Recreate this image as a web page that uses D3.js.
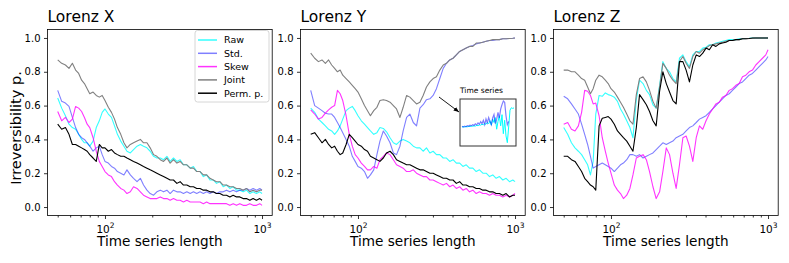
<!DOCTYPE html>
<html>
<head>
<meta charset="utf-8">
<script src="https://cdn.jsdelivr.net/npm/d3@7"></script>
<style>
  body { margin: 0; background: #fff; }
  svg { font-family: "DejaVu Sans", sans-serif; }
</style>
</head>
<body>
<svg id="chart" width="789" height="263"></svg>
<script>
// time series lengths (shared x values for every panel)
var lengths = [50,53,56,59,62,65,68,71, 74,77,80,84,88,92,96,100,
  105,110,115,120,126,132,138,145, 152,160,168,176,185,194,204,214,
  225,236,248,260,273,287,301,316, 332,349,366,384,403,423,444,466,
  489,513,539,566,594,624,655,688, 722,758,796,836,878,922,968,1000];

var seriesNames = ['Raw', 'Std.', 'Skew', 'Joint', 'Perm. p.'];
var titles = ['Lorenz X', 'Lorenz Y', 'Lorenz Z'];
var yTicks = [0, 0.2, 0.4, 0.6, 0.8, 1.0];
var xMajor = [100, 1000];
var xMinor = [50, 60, 70, 80, 90, 200, 300, 400, 500, 600, 700, 800, 900];

// Lorenz X
var xRaw = [.645,.585,.54,.49,.47,.46,.43,.40, .38,.38,.36,.39,.47,.51,.56,.58,
  .55,.53,.48,.43,.39,.36,.33,.32, .34,.36,.37,.36,.35,.33,.30,.29,
  .29,.28,.30,.27,.29,.27,.28,.25, .25,.23,.24,.21,.21,.18,.19,.16,
  .16,.14,.15,.12,.13,.11,.12,.10, .10,.09,.10,.08,.09,.08,.09,.08];
var xStd = [.69,.625,.615,.595,.53,.47,.43,.41, .40,.38,.36,.33,.35,.36,.31,.27,
  .26,.24,.23,.21,.20,.19,.22,.19, .17,.15,.17,.13,.10,.08,.07,.09,
  .10,.09,.10,.08,.10,.09,.09,.08, .09,.08,.09,.08,.09,.08,.09,.08,
  .09,.08,.09,.09,.10,.09,.10,.09, .10,.10,.11,.10,.11,.10,.11,.10];
var xSkew = [.565,.51,.53,.50,.52,.595,.585,.565, .53,.49,.47,.41,.33,.27,.24,.21,
  .19,.18,.15,.13,.11,.10,.08,.09, .12,.11,.09,.07,.06,.05,.05,.05,
  .06,.05,.05,.04,.05,.04,.04,.03, .04,.03,.03,.03,.03,.02,.03,.02,
  .02,.02,.02,.02,.02,.01,.02,.01, .02,.01,.01,.02,.01,.01,.02,.01];
var xJoint = [.87,.85,.84,.82,.85,.81,.79,.75, .73,.70,.67,.68,.66,.65,.66,.63,
  .59,.56,.52,.47,.43,.38,.35,.37, .38,.39,.40,.38,.38,.35,.31,.30,
  .28,.27,.29,.26,.28,.26,.27,.25, .25,.23,.23,.21,.21,.19,.19,.17,
  .16,.15,.15,.13,.13,.12,.12,.11, .11,.10,.11,.09,.10,.09,.10,.10];
var xPerm = [.49,.46,.47,.43,.37,.37,.36,.35, .34,.33,.31,.29,.27,.37,.35,.35,
  .33,.34,.32,.31,.30,.30,.29,.28, .27,.26,.25,.24,.23,.22,.21,.20,
  .19,.18,.17,.16,.16,.14,.15,.13, .13,.12,.12,.11,.11,.10,.10,.09,
  .09,.08,.08,.07,.07,.06,.07,.06, .06,.05,.05,.04,.05,.04,.05,.04];

// Lorenz Y
var yRaw = [.585,.56,.52,.50,.48,.46,.45,.43, .45,.48,.52,.57,.585,.595,.57,.54,
  .51,.49,.47,.45,.43,.44,.47,.465, .445,.41,.38,.37,.39,.40,.39,.38,
  .36,.35,.35,.33,.35,.32,.33,.31, .31,.29,.29,.27,.28,.26,.26,.24,
  .25,.23,.23,.21,.22,.20,.20,.18, .19,.17,.18,.16,.17,.15,.16,.15];
var yStd = [.69,.60,.585,.57,.555,.55,.55,.53, .50,.47,.44,.40,.36,.30,.27,.24,
  .23,.21,.17,.19,.22,.31,.39,.45, .42,.38,.32,.31,.36,.45,.53,.55,
  .50,.48,.585,.605,.635,.64,.66,.70, .76,.82,.85,.87,.88,.90,.92,.93,
  .94,.95,.955,.965,.97,.975,.98,.985, .985,.99,.99,.995,.995,.997,.998,1.0];
var ySkew = [.575,.55,.52,.53,.555,.575,.59,.60, .69,.67,.63,.54,.43,.36,.31,.29,
  .26,.24,.22,.22,.24,.23,.28,.30, .32,.31,.28,.25,.24,.23,.21,.21,
  .22,.20,.19,.18,.18,.16,.16,.15, .14,.13,.14,.12,.13,.11,.12,.10,
  .11,.09,.10,.08,.09,.08,.08,.07, .08,.07,.07,.06,.07,.06,.07,.08];
var yJoint = [.91,.88,.86,.87,.85,.87,.84,.82, .80,.81,.78,.76,.74,.72,.70,.68,
  .64,.60,.57,.54,.57,.59,.63,.635, .63,.62,.60,.58,.53,.59,.66,.65,
  .63,.61,.62,.66,.71,.74,.76,.77, .81,.84,.85,.87,.88,.90,.92,.93,
  .94,.95,.95,.97,.97,.975,.98,.985, .99,.99,.99,.995,.995,.997,.998,1.0];
var yPerm = [.43,.44,.41,.38,.40,.37,.35,.36, .33,.31,.32,.37,.43,.41,.39,.37,
  .36,.34,.33,.30,.29,.28,.27,.29, .32,.33,.31,.28,.27,.26,.25,.25,
  .24,.23,.22,.22,.21,.20,.20,.19, .18,.17,.17,.16,.16,.14,.15,.13,
  .13,.12,.12,.11,.11,.10,.10,.09, .09,.08,.08,.07,.08,.06,.07,.07];

// Lorenz Z
var zRaw = [.47,.43,.38,.35,.33,.31,.28,.25, .19,.27,.55,.66,.655,.675,.665,.66,
  .65,.625,.58,.55,.51,.47,.41,.635, .75,.73,.69,.665,.605,.585,.72,.86,
  .82,.80,.76,.74,.88,.90,.86,.83, .90,.92,.92,.94,.945,.96,.96,.97,
  .975,.98,.985,.99,.99,.99,.995,.995, .997,.998,1,1,1,1,1,1];
var zStd = [.655,.64,.61,.58,.55,.49,.43,.37, .30,.23,.24,.25,.26,.25,.24,.23,
  .21,.23,.25,.26,.28,.31,.31,.30, .31,.29,.30,.31,.32,.34,.36,.38,
  .37,.38,.39,.41,.42,.43,.45,.47, .48,.50,.52,.53,.54,.56,.58,.60,
  .62,.64,.66,.67,.69,.71,.73,.74, .76,.78,.79,.81,.83,.85,.87,.89];
var zSkew = [.49,.50,.46,.45,.48,.56,.69,.685, .66,.61,.615,.54,.41,.33,.26,.20,
  .13,.10,.08,.05,.07,.11,.19,.29, .30,.31,.28,.21,.12,.05,.09,.21,
  .35,.31,.20,.11,.25,.41,.42,.36, .27,.41,.48,.46,.51,.55,.58,.61,
  .62,.65,.66,.69,.70,.72,.73,.77, .78,.80,.81,.84,.86,.88,.90,.93];
var zJoint = [.81,.81,.80,.80,.78,.76,.75,.71, .67,.70,.75,.78,.77,.75,.73,.70,
  .68,.65,.62,.59,.55,.51,.49,.665, .76,.77,.74,.69,.625,.585,.71,.85,
  .82,.78,.75,.73,.86,.89,.85,.82, .89,.92,.91,.93,.94,.955,.96,.965,
  .97,.975,.98,.985,.985,.99,.99,.995, .995,.997,.998,1,1,1,1,1];
var zPerm = [.30,.30,.28,.27,.24,.21,.17,.15, .13,.12,.10,.48,.525,.53,.535,.52,
  .49,.45,.43,.41,.39,.36,.33,.47, .665,.635,.605,.565,.51,.48,.685,.80,
  .73,.68,.63,.61,.86,.86,.81,.74, .84,.90,.89,.91,.94,.93,.96,.95,
  .965,.97,.975,.985,.985,.99,.99,.995, .995,.997,1,1,1,1,1,1];

// inset "Time series" (sample index on x)
var insetRaw = [-.2,-.19,-.2,-.18,-.19,-.17,-.18,-.16,-.17,-.15,
  -.16,-.13,-.14,-.11,-.12,-.08,-.1,-.05,-.08,0,
  -.06,.08,-.12,.15,.0,.22,-.3,.05,.3,-.15,
  .35,-.5,.1,-.6,-.9,-.2,.55,.66,.63,.65];
var insetStd = [-.17,-.2,-.16,-.19,-.14,-.17,-.12,-.15,-.1,-.13,
  -.06,-.11,-.02,-.08,.04,-.05,.1,-.1,.16,-.02,
  .22,.05,-.1,.2,.35,-.05,.15,.45,.2,.6,
  .8,.96,.9,.3,-.1,.05];

var panelData = [
  [xRaw, xStd, xSkew, xJoint, xPerm],
  [yRaw, yStd, ySkew, yJoint, yPerm],
  [zRaw, zStd, zSkew, zJoint, zPerm]
];
var colors = ['#00ffff', '#0000ff', '#ff00ff', '#808080', '#000000'];
var opac = [0.8, 0.5, 0.8, 1, 1];

var svg = d3.select('#chart');
var panelLeft = [47.5, 300.5, 553.5];
var panelW = 224.7, plotTop = 29.5, plotBottom = 215.5;

var x = d3.scaleLog().domain([43.05, 1161]).range([0, panelW]);
var y = d3.scaleLinear().domain([-0.05, 1.05]).range([plotBottom, plotTop]);

var line = d3.line()
  .x(function(d) { return x(d[0]); })
  .y(function(d) { return y(d[1]); });

panelData.forEach(function(series, p) {
  var g = svg.append('g').attr('transform', 'translate(' + panelLeft[p] + ',0)');

  series.forEach(function(vals, k) {
    g.append('path')
      .datum(vals.map(function(v, i) { return [lengths[i], v]; }))
      .attr('d', line)
      .attr('fill', 'none')
      .attr('stroke', colors[k])
      .attr('stroke-opacity', opac[k])
      .attr('stroke-width', 1.1)
      .attr('stroke-linejoin', 'round');
  });

  // axes
  var ya = g.append('g')
    .call(d3.axisLeft(y).tickValues(yTicks).tickFormat(d3.format('.1f')).tickSize(3.5).tickPadding(3.5));
  var xmin = g.append('g').attr('transform', 'translate(0,' + plotBottom + ')')
    .call(d3.axisBottom(x).tickValues(xMinor).tickFormat('').tickSize(2));
  var xmaj = g.append('g').attr('transform', 'translate(0,' + plotBottom + ')')
    .call(d3.axisBottom(x).tickValues(xMajor).tickFormat('').tickSize(3.5));
  [ya, xmin, xmaj].forEach(function(a) {
    a.select('.domain').remove();
    a.attr('font-family', null).attr('font-size', 10).style('color', '#000');
    a.selectAll('line').attr('stroke-width', 0.8);
  });
  xmaj.selectAll('.tick').each(function(d) {
    var t = d3.select(this).append('text')
      .attr('fill', '#000').attr('y', 17).attr('text-anchor', 'middle').attr('font-size', 10.5);
    t.append('tspan').text('10');
    t.append('tspan').attr('dy', -5).attr('font-size', 7.5).text(String(Math.round(Math.log10(d))));
  });

  g.append('rect')
    .attr('x', 0).attr('y', plotTop)
    .attr('width', panelW).attr('height', plotBottom - plotTop)
    .attr('fill', 'none').attr('stroke', '#000').attr('stroke-width', 0.8);

  g.append('text').attr('x', 0).attr('y', 22).attr('font-size', 15.5).text(titles[p]);
  g.append('text').attr('x', panelW / 2).attr('y', 246).attr('text-anchor', 'middle')
    .attr('font-size', 13.6).text('Time series length');
});

svg.append('text')
  .attr('transform', 'translate(21,128) rotate(-90)')
  .attr('text-anchor', 'middle').attr('font-size', 14.5)
  .text('Irreversibility p.');

// legend
var leg = svg.append('g');
leg.append('rect').attr('x', 195).attr('y', 30.5).attr('width', 74).attr('height', 71.5)
  .attr('rx', 2.5).attr('fill', '#fff').attr('fill-opacity', 0.8)
  .attr('stroke', '#ccc').attr('stroke-width', 0.8);
seriesNames.forEach(function(name, k) {
  var cy = 40 + k * 13.3;
  leg.append('line').attr('x1', 198).attr('x2', 217).attr('y1', cy).attr('y2', cy)
    .attr('stroke', colors[k]).attr('stroke-opacity', opac[k]).attr('stroke-width', 1.5);
  leg.append('text').attr('x', 224).attr('y', cy + 3.4).attr('font-size', 9.5).text(name);
});

// inset
var ix = d3.scaleLinear().domain([0, insetRaw.length - 1]).range([462, 514]);
var iy = d3.scaleLinear().domain([-1.05, 1.05]).range([146, 99]);
var iline = d3.line().x(function(d, i) { return ix(i); }).y(function(d) { return iy(d); });
svg.append('path').datum(insetRaw).attr('d', iline).attr('fill', 'none')
  .attr('stroke', colors[0]).attr('stroke-width', 1);
svg.append('path').datum(insetStd).attr('d', iline).attr('fill', 'none')
  .attr('stroke', colors[1]).attr('stroke-opacity', 0.5).attr('stroke-width', 1.2);
svg.append('rect').attr('x', 460).attr('y', 99).attr('width', 56).attr('height', 47)
  .attr('fill', 'none').attr('stroke', '#333').attr('stroke-width', 1);
svg.append('text').attr('x', 460).attr('y', 93).attr('font-size', 7.5).text('Time series');

svg.append('defs').append('marker')
  .attr('id', 'ah').attr('viewBox', '0 0 10 10').attr('refX', 10).attr('refY', 5)
  .attr('markerWidth', 6).attr('markerHeight', 6).attr('orient', 'auto')
  .append('path').attr('d', 'M0,1 L10,5 L0,9 z').attr('fill', '#000');
svg.append('line').attr('x1', 439).attr('y1', 97).attr('x2', 459).attr('y2', 112)
  .attr('stroke', '#000').attr('stroke-width', 0.9).attr('marker-end', 'url(#ah)');
</script>
</body>
</html>
